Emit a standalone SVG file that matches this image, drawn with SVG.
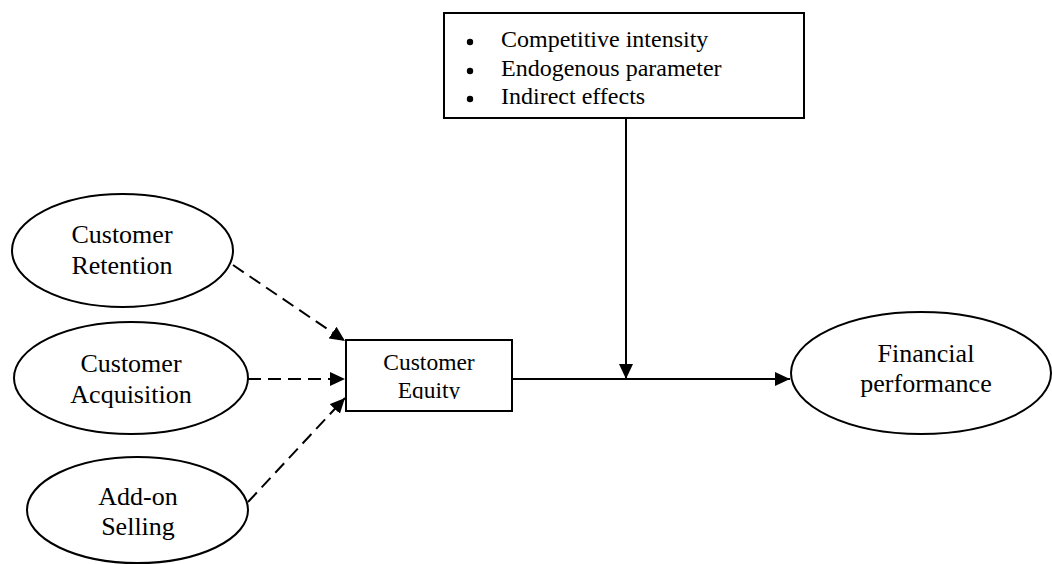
<svg xmlns="http://www.w3.org/2000/svg" width="1052" height="564" viewBox="0 0 1052 564">
<style>
.shape{fill:#fff;stroke:#000;stroke-width:2}
.t{font-family:"Liberation Serif","Times New Roman",serif;fill:#000}
.e{font-size:26px;text-anchor:middle}
.b{font-size:24px}
.c{font-size:23.5px;text-anchor:middle}
.solid{stroke:#000;stroke-width:2;fill:none}
.dash{stroke:#000;stroke-width:2;fill:none;stroke-dasharray:13,7}
</style>
<defs>
<marker id="ah" markerUnits="userSpaceOnUse" markerWidth="16" markerHeight="14" refX="15" refY="7" orient="auto">
<path d="M0,0 L15,7 L0,14 z" fill="#000"/>
</marker>
<clipPath id="eqclip"><rect x="346" y="340" width="166" height="59"/></clipPath>
</defs>
<g id="factors">
<rect class="shape" x="444" y="13" width="360" height="105"/>
<circle cx="470" cy="42" r="3.2" fill="#000"/>
<circle cx="470" cy="71" r="3.2" fill="#000"/>
<circle cx="470" cy="99" r="3.2" fill="#000"/>
<text class="t b" x="501" y="47">Competitive intensity</text>
<text class="t b" x="501" y="76">Endogenous parameter</text>
<text class="t b" x="501" y="104">Indirect effects</text>
</g>
<g id="retention">
<ellipse class="shape" cx="122.5" cy="250.5" rx="110.5" ry="56.5"/>
<text class="t e" x="122" y="243">Customer</text>
<text class="t e" x="122" y="274">Retention</text>
</g>
<g id="acquisition">
<ellipse class="shape" cx="131" cy="378" rx="117" ry="56"/>
<text class="t e" x="131" y="372">Customer</text>
<text class="t e" x="131" y="403">Acquisition</text>
</g>
<g id="addon">
<ellipse class="shape" cx="137.5" cy="510" rx="110.5" ry="53"/>
<text class="t e" x="138" y="505">Add-on</text>
<text class="t e" x="138" y="535">Selling</text>
</g>
<g id="equity">
<rect class="shape" x="346" y="340" width="166" height="71"/>
<g clip-path="url(#eqclip)">
<text class="t c" x="429" y="370">Customer</text>
<text class="t c" x="429" y="398">Equity</text>
</g>
</g>
<g id="financial">
<ellipse class="shape" cx="921" cy="373" rx="130" ry="61"/>
<text class="t e" x="926" y="362">Financial</text>
<text class="t e" x="926" y="392">performance</text>
</g>
<g id="connectors">
<line class="dash" x1="233" y1="265" x2="345" y2="341" marker-end="url(#ah)"/>
<line class="dash" x1="248" y1="379" x2="345" y2="379" marker-end="url(#ah)"/>
<line class="dash" x1="248" y1="502" x2="345" y2="398" marker-end="url(#ah)"/>
<line class="solid" x1="512" y1="379" x2="790" y2="379" marker-end="url(#ah)"/>
<line class="solid" x1="626" y1="118" x2="626" y2="379" marker-end="url(#ah)"/>
</g>
</svg>
